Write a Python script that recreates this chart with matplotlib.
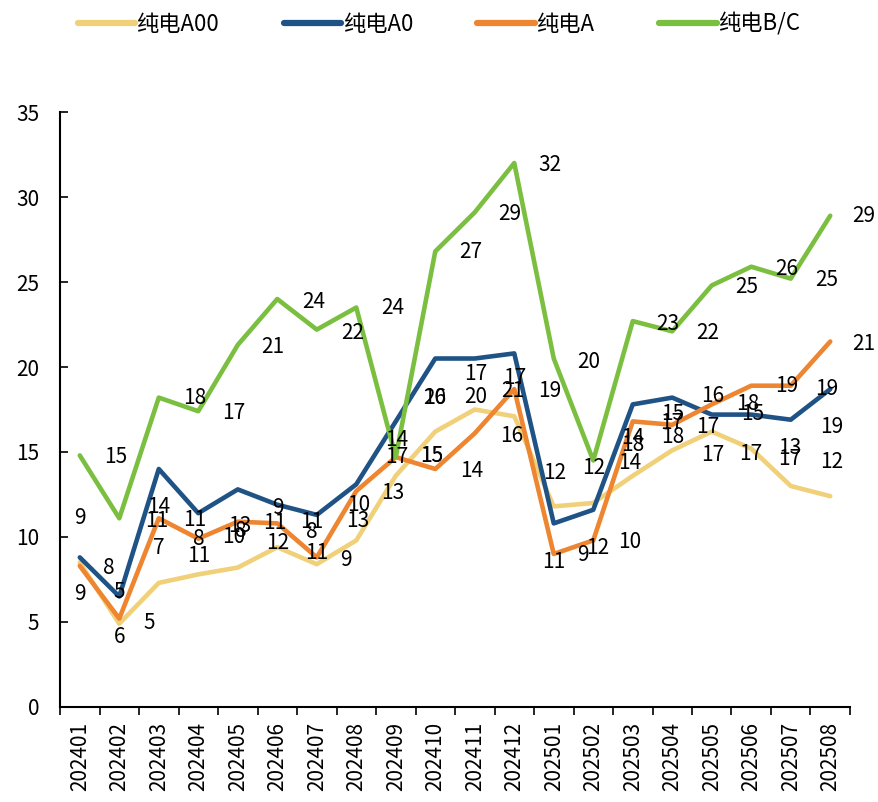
import matplotlib
matplotlib.use('Agg')
import matplotlib.pyplot as plt
from matplotlib.ticker import FixedLocator

plt.rcParams['font.family'] = ['Noto Sans CJK SC', 'DejaVu Sans']

months = ['202401', '202402', '202403', '202404', '202405', '202406', '202407',
          '202408', '202409', '202410', '202411', '202412', '202501', '202502',
          '202503', '202504', '202505', '202506', '202507', '202508']

series_names = ['纯电A00', '纯电A0', '纯电A', '纯电B/C']
a00 = [8.5, 4.9, 7.3, 7.8, 8.2, 9.4, 8.4, 9.8, 13.6, 16.2, 17.5, 17.1, 11.8, 12.0,
       13.6, 15.1, 16.2, 15.2, 13.0, 12.4]
a0 = [8.8, 6.5, 14.0, 11.4, 12.8, 11.9, 11.3, 13.1, 16.8, 20.5, 20.5, 20.8, 10.8, 11.6,
      17.8, 18.2, 17.2, 17.2, 16.9, 18.7]
a = [8.3, 5.2, 11.1, 9.9, 10.9, 10.8, 8.8, 12.7, 14.7, 14.0, 16.1, 18.7, 9.0, 9.8,
     16.8, 16.6, 17.8, 18.9, 18.9, 21.5]
bc = [14.8, 11.1, 18.2, 17.4, 21.3, 24.0, 22.2, 23.5, 14.7, 26.8, 29.1, 32.0, 20.5, 14.5,
      22.7, 22.1, 24.8, 25.9, 25.2, 28.9]

# data labels as they appear in the source chart (text, category position, value position)
label_texts = ['9', '9', '8', '5', '6', '15', '5', '14', '11', '7', '18', '11', '8', '11',
               '17', '13', '8', '10', '21', '9', '11', '12', '24', '11', '8', '11',
               '22', '24', '9', '10', '13', '13', '14', '17', '15', '15', '20', '16',
               '27', '17', '20', '14', '29', '32', '17', '21', '16', '19', '20', '12',
               '12', '11', '9', '12',
               '10', '14', '14', '18', '23', '15', '17', '18', '22', '16', '17', '17',
               '25', '18', '15', '17', '26', '19', '13', '17', '29', '25', '21', '19',
               '19', '12']
label_x = [0.0, 0.0, 0.74, 1.01, 1.01, 0.91, 1.76, 2.01, 1.94, 2.01, 2.91, 2.91, 3.02, 3.02,
           3.9, 4.05, 4.08, 3.9, 4.89, 5.02, 4.94, 5.02, 5.91, 5.87, 5.87, 5.99,
           6.90, 7.92, 6.75, 7.05, 7.05, 7.92, 8.02, 8.02, 8.90, 8.90, 8.99, 8.99,
           9.89, 10.03, 10.03, 9.92, 10.89, 11.90, 11.01, 10.95, 10.93, 11.90, 12.89, 12.03,
           13.0, 12.0, 12.74, 13.12,
           13.91, 13.92, 14.0, 14.0, 14.89, 15.02, 14.98, 15.02, 15.91, 16.02, 15.91, 16.02,
           16.89, 16.92, 17.03, 17.0, 17.89, 17.91, 17.97, 17.97, 19.86, 18.9, 19.85, 18.92,
           19.03, 19.03]
label_y = [11.1, 6.63, 8.2, 6.74, 4.12, 14.7, 4.96, 11.76, 10.93, 9.36, 18.15, 10.97, 9.88, 8.88,
           17.31, 10.65, 10.35, 10.0, 21.18, 11.69, 10.8, 9.63, 23.8, 10.9, 10.31, 9.04,
           21.98, 23.49, 8.62, 11.87, 10.93, 12.6, 15.7, 14.7, 14.74, 14.74, 18.16, 18.16,
           26.79, 19.61, 18.21, 13.86, 29.03, 31.9, 19.34, 18.57, 15.95, 18.57, 20.3, 13.75,
           14.07, 8.52, 8.94, 9.36,
           9.71, 14.38, 15.8, 15.4, 22.54, 17.25, 16.69, 15.9, 21.98, 18.29, 16.47, 14.8,
           24.7, 17.83, 17.25, 14.86, 25.75, 18.88, 15.25, 14.6, 28.89, 25.12, 21.35, 18.71,
           16.47, 14.44]

colors = ['#F0D078', '#1F5285', '#EE8530', '#7BBF40']

fig = plt.figure(figsize=(8.79, 8.02), dpi=100)
ax = fig.add_axes([0.0683, 0.1185, 0.8987, 0.7418])

x = list(range(len(months)))
for name, vals, c in zip(series_names, [a00, a0, a, bc], colors):
    ax.plot(x, vals, color=c, lw=3.3, label=name,
            solid_joinstyle='round', solid_capstyle='round')

for t, lx, ly in zip(label_texts, label_x, label_y):
    ax.text(lx, ly, t, ha='center', va='center', fontsize=15, color='black', zorder=10)

ax.set_xlim(-0.5, len(months) - 0.5)
ax.set_ylim(0, 35)
ax.set_yticks(range(0, 36, 5))
ax.tick_params(axis='y', direction='in', length=6, width=1.2, labelsize=15, pad=15)
ax.set_xticks(x)
ax.set_xticklabels(months, rotation=90, fontsize=15)
ax.tick_params(axis='x', which='major', length=0, pad=11)
ax.xaxis.set_minor_locator(FixedLocator([i - 0.5 for i in range(len(months) + 1)]))
ax.tick_params(axis='x', which='minor', direction='out', length=6, width=1.2)

for s in ['top', 'right']:
    ax.spines[s].set_visible(False)
for s in ['left', 'bottom']:
    ax.spines[s].set_linewidth(1.5)
    ax.spines[s].set_color('black')

leg = fig.legend(loc='center', bbox_to_anchor=(0.499, 0.970), ncol=4, frameon=False,
                 fontsize=16, handlelength=2.6, handletextpad=0.05, columnspacing=2.9)
for h in leg.get_lines():
    h.set_linewidth(4.5)

fig.savefig('out.png', dpi=100)
